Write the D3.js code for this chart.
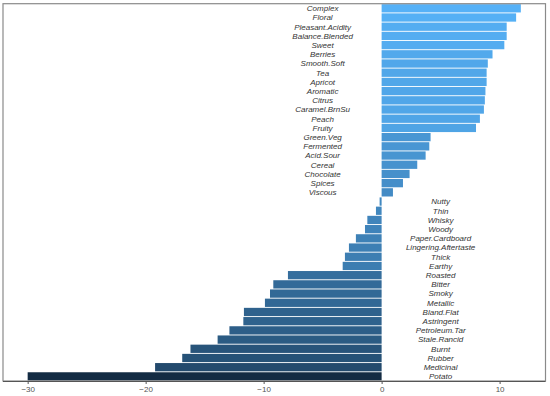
<!DOCTYPE html>
<html>
<head>
  <meta charset="UTF-8">
  <style>
    body { margin: 0; background: #fff; }
    svg { display: block; font-family: "Liberation Sans", Arial, sans-serif; }
  </style>
</head>
<body>
<svg width="550" height="396"></svg>
<script src="https://d3js.org/d3.v7.min.js"></script>
<script>

// attribute names, top to bottom
var attributes = ["Complex", "Floral", "Pleasant.Acidity", "Balance.Blended", "Sweet", "Berries",
  "Smooth.Soft", "Tea", "Apricot", "Aromatic", "Citrus", "Caramel.BrnSu", "Peach", "Fruity",
  "Green.Veg", "Fermented", "Acid.Sour", "Cereal", "Chocolate", "Spices", "Viscous",
  "Nutty", "Thin", "Whisky", "Woody", "Paper.Cardboard", "Lingering.Aftertaste", "Thick",
  "Earthy", "Roasted", "Bitter", "Smoky", "Metallic", "Bland.Flat", "Astringent",
  "Petroleum.Tar", "Stale.Rancid", "Burnt", "Rubber", "Medicinal", "Potato"];

// effect values
var effects = [11.8, 11.4, 10.6, 10.6, 10.4, 9.4,
  9.0, 8.9, 8.9, 8.8, 8.75, 8.67, 8.33, 8.0,
  4.15, 4.04, 3.73, 3.02, 2.37, 1.81, 0.96,
  -0.17, -0.48, -1.21, -1.41, -2.18, -2.77, -3.11,
  -3.3, -7.94, -9.18, -9.46, -9.89, -11.67, -11.72,
  -12.9, -13.9, -16.2, -16.9, -19.2, -30.0];

var xTicks = [-30, -20, -10, 0, 10];

var data = attributes.map((a, i) => ({name: a, value: effects[i]}));

var width = 550, height = 396;
var panel = {left: 3, right: 545.5, top: 3.7, bottom: 381};

var svg = d3.select("svg");

var ext = d3.extent(effects);
var pad = (ext[1] - ext[0]) * 0.05;
var x = d3.scaleLinear()
    .domain([ext[0] - pad, ext[1] + pad])
    .range([panel.left, panel.right]);

var y = d3.scaleBand()
    .domain(attributes)
    .range([panel.top, panel.bottom])
    .paddingInner(0.1)
    .paddingOuter(0.05);

var color = d3.scaleLinear()
    .domain(ext)
    .range(["#132B43", "#56B1F7"])
    .interpolate(d3.interpolateLab);

svg.append("g")
    .selectAll("rect")
    .data(data)
    .enter()
    .append("rect")
    .attr("x", d => x(Math.min(0, d.value)))
    .attr("width", d => Math.abs(x(d.value) - x(0)))
    .attr("y", d => y(d.name))
    .attr("height", y.bandwidth())
    .attr("fill", d => color(d.value));

// labels sit on the opposite side of zero
svg.append("g")
    .selectAll("text")
    .data(data)
    .enter()
    .append("text")
    .attr("x", d => x(d.value > 0 ? -5 : 5))
    .attr("y", d => y(d.name) + y.bandwidth() / 2)
    .attr("dy", "0.35em")
    .attr("text-anchor", "middle")
    .attr("font-size", 8)
    .attr("font-style", "italic")
    .attr("fill", "#333")
    .text(d => d.name);

// panel border
svg.append("rect")
    .attr("x", panel.left)
    .attr("y", panel.top)
    .attr("width", panel.right - panel.left)
    .attr("height", panel.bottom - panel.top)
    .attr("fill", "none")
    .attr("stroke", "#8a8a8a")
    .attr("stroke-width", 1.2);

var xAxis = svg.append("g")
    .attr("transform", "translate(0," + panel.bottom + ")")
    .call(d3.axisBottom(x).tickValues(xTicks).tickSize(3).tickPadding(2).tickFormat(d3.format("")));

xAxis.select(".domain")
    .attr("d", "M" + panel.left + ",0.5H" + panel.right)
    .attr("stroke", "#555")
    .attr("stroke-width", 1.2);
xAxis.selectAll(".tick line").attr("stroke", "#555");
xAxis.selectAll(".tick text")
    .attr("fill", "#555")
    .attr("font-size", 8)
    .attr("font-family", "Liberation Sans, Arial, sans-serif")
    .text(d => d < 0 ? "\u2212" + Math.abs(d) : d);

</script>
</body>
</html>
